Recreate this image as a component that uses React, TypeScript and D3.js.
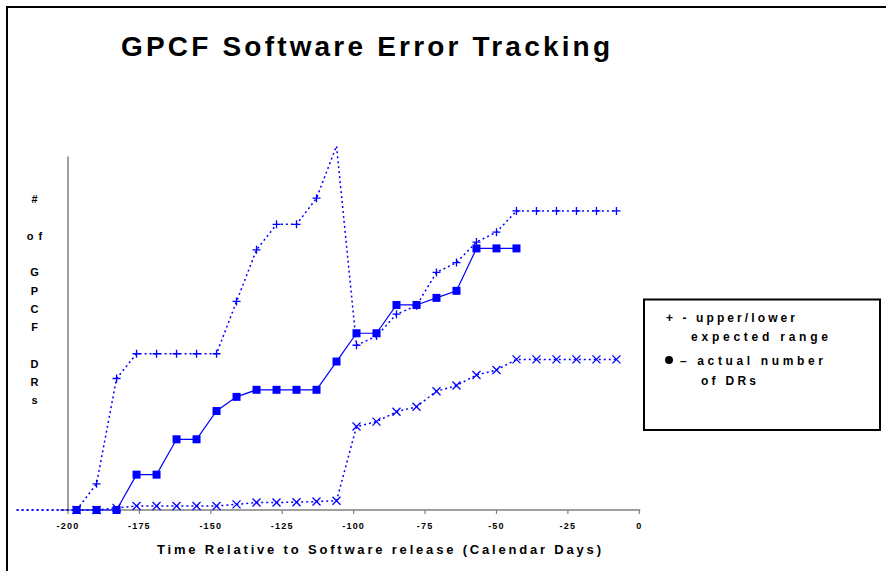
import React from "react";
import * as d3 from "d3";

const boundDays = [-218, -211, -204, -197, -190, -183, -176, -169, -162, -155, -148, -141, -134, -127, -120, -113, -106, -99, -92, -85, -78, -71, -64, -57, -50, -43, -36, -29, -22, -15, -8];
const upperValues = [0, 0, 0, 0, 3.7, 18.6, 22.1, 22.1, 22.1, 22.1, 22.1, 29.5, 36.8, 40.4, 40.4, 44.1, 51.5, 23.3, 24.6, 27.7, 28.9, 33.6, 35, 37.9, 39.3, 42.3, 42.3, 42.3, 42.3, 42.3, 42.3];
const lowerValues = [0, 0, 0, 0, 0, 0.3, 0.57, 0.57, 0.57, 0.57, 0.57, 0.8, 1.06, 1.06, 1.1, 1.2, 1.3, 11.8, 12.5, 13.9, 14.6, 16.8, 17.6, 19.1, 19.8, 21.3, 21.3, 21.3, 21.3, 21.3, 21.3];
const actualDays = [-197, -190, -183, -176, -169, -162, -155, -148, -141, -134, -127, -120, -113, -106, -99, -92, -85, -78, -71, -64, -57, -50, -43];
const actualValues = [0, 0, 0, 5, 5, 10, 10, 14, 16, 17, 17, 17, 17, 21, 25, 25, 29, 29, 30, 31, 37, 37, 37];
const xTicks = [-200, -175, -150, -125, -100, -75, -50, -25, 0];
const yLabelLines = ["#", "", "o f", "", "G", "P", "C", "F", "", "D", "R", "s"];

const title = "GPCF Software Error Tracking";
const xTitle = "Time Relative to Software release (Calendar Days)";

export default function App() {
  const W = 886, H = 571;
  const x = d3.scaleLinear().domain([-200, 0]).range([68, 639.3]);
  const y = d3.scaleLinear().domain([0, 50]).range([510, 156.5]);
  const blue = "#0000ff";

  const upper = boundDays.map((d, i) => ({ d, v: upperValues[i] }));
  const lower = boundDays.map((d, i) => ({ d, v: lowerValues[i] }));
  const actual = actualDays.map((d, i) => ({ d, v: actualValues[i] }));

  const line = d3.line<{ d: number; v: number }>().x(p => x(p.d)).y(p => y(p.v));
  const ms = 4;
  const peak = d3.max(upperValues) as number;

  return (
    <svg width={W} height={H} style={{ position: "absolute", left: 0, top: 0, background: "#fff" }}
      fontFamily="'Liberation Sans', Arial, sans-serif">
      <rect x={0} y={0} width={W} height={H} fill="#fff" />
      {/* frame */}
      <path d={`M7,${H} L7,7 L${W},7`} fill="none" stroke="#000" strokeWidth={2} />

      {/* title */}
      <text x={121} y={56} fontSize={28} fontWeight="bold" textLength={489} lengthAdjust="spacing">{title}</text>

      {/* axes */}
      <line x1={x(-200)} x2={x(-200)} y1={y(50)} y2={y(0)} stroke="#808080" strokeWidth={1.5} />
      <line x1={60} x2={x(0) + 1} y1={y(0)} y2={y(0)} stroke="#808080" strokeWidth={1.5} />
      {xTicks.map(t => (
        <g key={t}>
          <line x1={x(t)} x2={x(t)} y1={y(0)} y2={y(0) + 4} stroke="#808080" strokeWidth={1.2} />
          <text x={x(t)} y={529} fontSize={9} fontWeight="bold" textAnchor="middle" letterSpacing={1.2}>{t}</text>
        </g>
      ))}
      <text x={157} y={554} fontSize={13} fontWeight="bold" textLength={444} lengthAdjust="spacing">{xTitle}</text>

      {/* y label stacked */}
      {yLabelLines.map((s, i) => (
        <text key={i} x={35} y={203 + i * 18.3} fontSize={11} fontWeight="bold" textAnchor="middle" letterSpacing={1}>{s}</text>
      ))}

      {/* series lines */}
      <path d={line(upper) || ""} fill="none" stroke={blue} strokeWidth={1.5} strokeDasharray="2,3" />
      <path d={line(lower) || ""} fill="none" stroke={blue} strokeWidth={1.5} strokeDasharray="2,3" />
      <path d={line(actual) || ""} fill="none" stroke={blue} strokeWidth={1.2} />

      {/* markers */}
      {upper.filter(p => p.d >= -200 && p.v < peak).map((p, i) => (
        <path key={"u" + i} d={`M${x(p.d) - ms},${y(p.v)}h${2 * ms}M${x(p.d)},${y(p.v) - ms}v${2 * ms}`} stroke={blue} strokeWidth={1.3} />
      ))}
      {lower.filter(p => p.d >= -200).map((p, i) => (
        <path key={"l" + i} d={`M${x(p.d) - ms},${y(p.v) - ms}l${2 * ms},${2 * ms}M${x(p.d) - ms},${y(p.v) + ms}l${2 * ms},${-2 * ms}`} stroke={blue} strokeWidth={1.3} />
      ))}
      {actual.map((p, i) => (
        <rect key={"a" + i} x={x(p.d) - 4} y={y(p.v) - 4} width={8} height={8} fill={blue} />
      ))}

      {/* legend */}
      <rect x={644} y={299.5} width={236} height={130.5} fill="#fff" stroke="#000" strokeWidth={2} />
      <g fontSize={12} fontWeight="bold">
        <text x={666} y={322} textLength={129} lengthAdjust="spacing">+ - upper/lower</text>
        <text x={691} y={341} textLength={137} lengthAdjust="spacing">expected range</text>
        <circle cx={669} cy={360} r={4} fill="#000" />
        <text x={680} y={365} textLength={143} lengthAdjust="spacing">– actual number</text>
        <text x={701} y={385} textLength={55} lengthAdjust="spacing">of DRs</text>
      </g>
    </svg>
  );
}
